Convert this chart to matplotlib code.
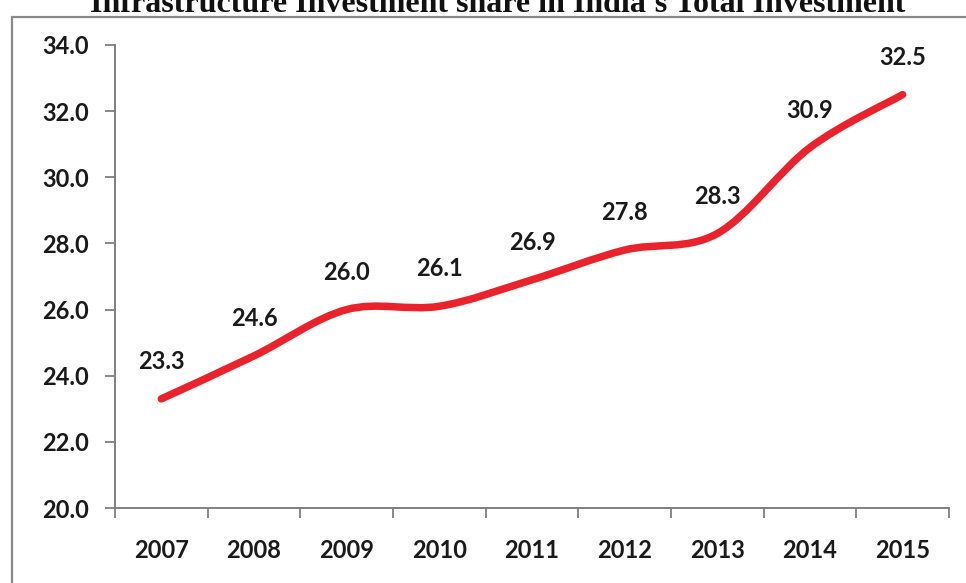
import matplotlib
matplotlib.use("Agg")
import matplotlib.pyplot as plt
from matplotlib.path import Path
from matplotlib.patches import PathPatch, Rectangle
import numpy as np

years = ["2007", "2008", "2009", "2010", "2011", "2012", "2013", "2014", "2015"]
share = [23.3, 24.6, 26.0, 26.1, 26.9, 27.8, 28.3, 30.9, 32.5]
y_ticks = [20.0, 22.0, 24.0, 26.0, 28.0, 30.0, 32.0, 34.0]
title = "Infrastructure Investment share in India's Total Investment"

W, H = 966, 583
fig = plt.figure(figsize=(W / 100, H / 100), dpi=100)
fig.patch.set_facecolor("white")

# outer frame of the chart area
fig.patches.append(Rectangle((12 / W, -0.1), 1.2, 1 - 17 / H + 0.1,
                             transform=fig.transFigure, fill=False,
                             edgecolor="#8a8a8a", linewidth=1.6))

fig.text(498 / W, 1 - 12 / H, title, ha="center", va="baseline",
         fontsize=23, fontweight="bold", family="Liberation Serif",
         color="#111111")

left, right, bottom, top = 115, 949, 508, 45
ax = fig.add_axes([left / W, 1 - bottom / H, (right - left) / W, (bottom - top) / H])

x = np.arange(len(years))
ax.set_xlim(-0.5, len(years) - 0.5)
ax.set_ylim(20, 34)

# smoothed line built from cubic Bezier segments through the data points
pts = np.column_stack([x, share]).astype(float)
verts = [tuple(pts[0])]
codes = [Path.MOVETO]
n = len(pts)
for i in range(n - 1):
    p0 = pts[i - 1] if i > 0 else pts[i]
    p1 = pts[i]
    p2 = pts[i + 1]
    p3 = pts[i + 2] if i + 2 < n else pts[i + 1]
    c1 = p1 + (p2 - p0) / 6.0
    c2 = p2 - (p3 - p1) / 6.0
    verts += [tuple(c1), tuple(c2), tuple(p2)]
    codes += [Path.CURVE4, Path.CURVE4, Path.CURVE4]
ax.add_patch(PathPatch(Path(verts, codes), fill=False, edgecolor="#E9222B",
                       linewidth=5.4, capstyle="round", joinstyle="round"))

font = dict(family=["Lato", "DejaVu Sans"], fontweight="bold", color="#1a1a1a")
for xi, v in zip(x, share):
    ax.annotate(f"{v:.1f}", (xi, v), xytext=(0, 27), textcoords="offset points",
                ha="center", va="center", fontsize=17, **font)

ax.set_yticks(y_ticks)
ax.set_yticklabels([f"{t:.1f}" for t in y_ticks], fontsize=17, **font)
ax.set_xticks(np.arange(-0.5, len(years), 1.0))
ax.set_xticklabels([])
ax.set_xticks(x, minor=True)
ax.set_xticklabels(years, minor=True, fontsize=17, **font)
ax.tick_params(axis="x", which="minor", length=0, pad=22)
ax.tick_params(axis="x", which="major", length=7, width=1.3, color="#808080", direction="out")
ax.tick_params(axis="y", length=7, width=1.3, color="#808080", direction="out", pad=12)

for s in ["top", "right"]:
    ax.spines[s].set_visible(False)
for s in ["left", "bottom"]:
    ax.spines[s].set_color("#808080")
    ax.spines[s].set_linewidth(1.4)

fig.savefig("out.png", dpi=100)
